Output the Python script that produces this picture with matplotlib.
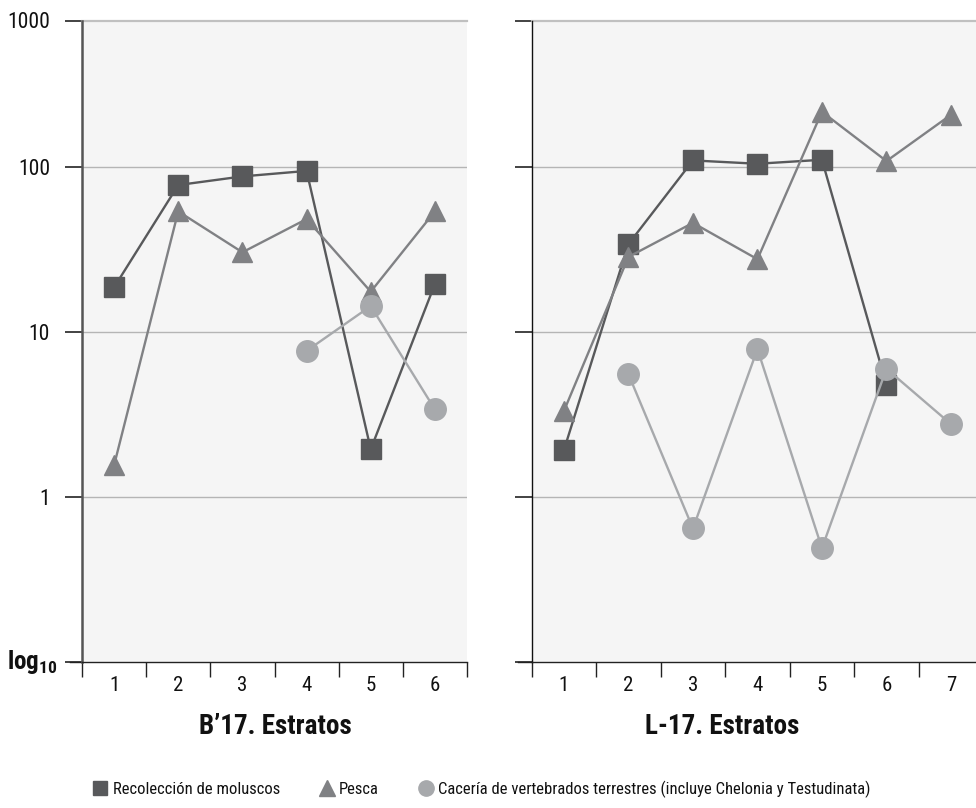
import numpy as np
import matplotlib
matplotlib.use("Agg")
import matplotlib.pyplot as plt
from matplotlib.lines import Line2D
from matplotlib import font_manager

# ---------------- data ----------------
b17_estratos = [1, 2, 3, 4, 5, 6]
b17_moluscos = [18.7, 78, 88, 95, 1.95, 19.6]
b17_pesca = [1.56, 54, 30.5, 48.5, 17.6, 54]
b17_caceria = [np.nan, np.nan, np.nan, 7.7, 14.4, 3.4]

l17_estratos = [1, 2, 3, 4, 5, 6, 7]
l17_moluscos = [1.93, 34.2, 110, 105, 111, 4.8, np.nan]
l17_pesca = [3.33, 28.6, 46, 27.7, 217, 109, 208]
l17_caceria = [np.nan, 5.56, 0.645, 7.9, 0.49, 6.0, 2.77]

y_ticks = [0.1, 1, 10, 100, 776]
y_tick_labels = ["", "1", "10", "100", "1000"]

titles = ["B\u201917. Estratos", "L-17. Estratos"]
legend_labels = ["Recolección de moluscos", "Pesca",
                 "Cacería de vertebrados terrestres (incluye Chelonia y Testudinata)"]

# ---------------- font selection ----------------
ttf = font_manager.fontManager.ttflist
names = {f.name for f in ttf}
FONT = None
for cand in ["Roboto Condensed", "Liberation Sans Narrow", "Open Sans Condensed",
             "Noto Sans Condensed", "Arial Narrow"]:
    if cand in names:
        FONT = cand
        break
if FONT is None:
    FONT = "Liberation Sans"

plt.rcParams["font.family"] = [FONT, "DejaVu Sans"]
plt.rcParams["mathtext.fontset"] = "custom"
plt.rcParams["mathtext.bf"] = FONT + ":bold"
plt.rcParams["mathtext.rm"] = FONT

C_MOL = "#58595b"
C_PES = "#808184"
C_CAC = "#a7a9ac"
BG = "#f5f5f5"
GRID = "#b5b5b5"

fig = plt.figure(figsize=(9.76, 8.08), dpi=100)
H = 808.0
W = 976.0
ax_bottom = (H - 662) / H
ax_height = (662 - 20.5) / H
ax1 = fig.add_axes([82 / W, ax_bottom, 385 / W, ax_height])
ax2 = fig.add_axes([531.7 / W, ax_bottom, 451.5 / W, ax_height])

def draw(ax, x, mol, pes, cac, n, first):
    ax.set_facecolor(BG)
    ax.set_yscale("log")
    ax.set_ylim(0.1, 776)
    ax.set_xlim(0.5, n + 0.5)
    for yv in y_ticks[1:4]:
        ax.axhline(yv, color=GRID, lw=1.0, zorder=1)
    ax.plot(x, mol, color=C_MOL, lw=1.7, marker="s", ms=14.5, mec=C_MOL, mfc=C_MOL, zorder=3)
    ax.plot(x, pes, color=C_PES, lw=1.7, marker="^", ms=14.5, mec=C_PES, mfc=C_PES, zorder=4)
    ax.plot(x, cac, color=C_CAC, lw=1.7, marker="o", ms=15.5, mec=C_CAC, mfc=C_CAC, zorder=5)

    ax.spines["right"].set_visible(False)
    ax.spines["top"].set_visible(False)
    ax.spines["bottom"].set_color("#222222")
    ax.spines["bottom"].set_linewidth(1.0)
    if first:
        ax.spines["left"].set_color("#555555")
        ax.spines["left"].set_linewidth(1.8)
    else:
        ax.spines["left"].set_color("#111111")
        ax.spines["left"].set_linewidth(1.0)

    ax.set_yticks(y_ticks)
    ax.yaxis.set_minor_locator(matplotlib.ticker.NullLocator())
    if first:
        ax.set_yticklabels(y_tick_labels)
    else:
        ax.set_yticklabels([])
    ax.tick_params(axis="y", which="major", length=12, width=1.2, color="#222222",
                   pad=11, labelsize=15.5, labelcolor="#111111")

    ax.set_xticks(x)
    ax.set_xticklabels([str(v) for v in x])
    ax.set_xticks(np.arange(0.5, n + 0.51, 1.0), minor=True)
    ax.tick_params(axis="x", which="major", length=0, pad=10, labelsize=15, labelcolor="#111111")
    ax.tick_params(axis="x", which="minor", length=11, width=1.0, color="#222222")

draw(ax1, b17_estratos, b17_moluscos, b17_pesca, b17_caceria, 6, True)
draw(ax2, l17_estratos, l17_moluscos, l17_pesca, l17_caceria, 7, False)

for ax in (ax1, ax2):
    ax.axhline(776, color="#c0c0c0", lw=1.6, zorder=2, clip_on=False)
    ax.plot([-0.03, 0], [0, 0], transform=ax.transAxes, color="#222222", lw=1.0, clip_on=False)

fig.text(57 / W, 1 - 662 / H, r"$\mathbf{log}_{\mathbf{10}}$", ha="right", va="center",
         fontsize=18, color="#111111")

fig.text(275 / W, 1 - 726 / H, titles[0], ha="center", va="center",
         fontsize=19.5, fontweight="bold", color="#111111")
fig.text(722 / W, 1 - 726 / H, titles[1], ha="center", va="center",
         fontsize=19.5, fontweight="bold", color="#111111")

handles = [
    Line2D([], [], ls="none", marker="s", ms=10.5, color=C_MOL),
    Line2D([], [], ls="none", marker="^", ms=11, color=C_PES),
    Line2D([], [], ls="none", marker="o", ms=11, color=C_CAC),
]
fig.legend(handles, legend_labels, ncol=3, loc="center", bbox_to_anchor=(482 / W, 1 - 789 / H),
           frameon=False, fontsize=12, handlelength=0.8, handletextpad=0.35,
           columnspacing=2.4, labelcolor="#111111")

fig.savefig("out.png", dpi=100)
